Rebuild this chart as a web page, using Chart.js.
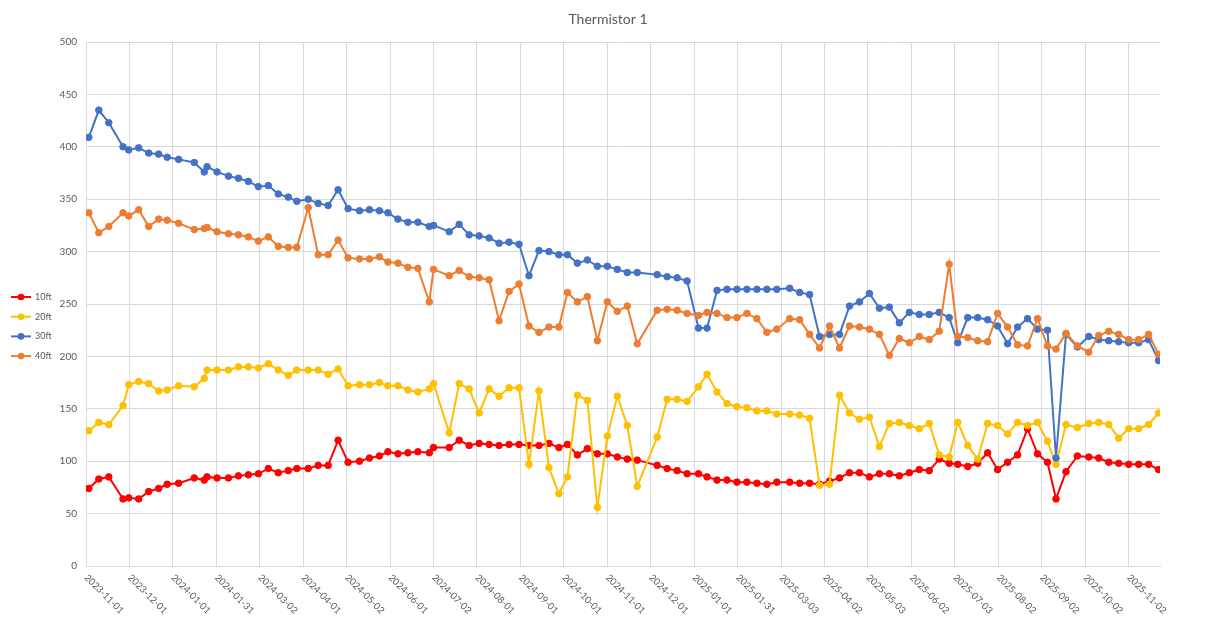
<!DOCTYPE html>
<html>
<head>
<meta charset="utf-8">
<script src="https://cdn.jsdelivr.net/npm/chart.js@4.4.0/dist/chart.umd.min.js"></script>
<style>
html,body{margin:0;padding:0;background:#fff;}
#wrap{width:1216px;height:622px;}
</style>
</head>
<body>
<div id="wrap"><canvas id="c" width="1216" height="622"></canvas></div>
<script>
const chartTitle = 'Thermistor 1';
const seriesNames = ['10ft', '20ft', '30ft', '40ft'];
const seriesColors = ['#FF0000', '#FFC000', '#4472C4', '#ED7D31'];
const axisStart = '2023-11-01';
const axisEnd = '2025-11-24';
const tickStepDays = 30.5;
const yTicks = [0, 50, 100, 150, 200, 250, 300, 350, 400, 450, 500];

const dates = [
'2023-11-03','2023-11-10','2023-11-17','2023-11-27','2023-12-01','2023-12-08','2023-12-15','2023-12-22','2023-12-28',
'2024-01-05','2024-01-16','2024-01-23','2024-01-25','2024-02-01','2024-02-09','2024-02-16','2024-02-23','2024-03-01','2024-03-08','2024-03-15','2024-03-22','2024-03-28',
'2024-04-05','2024-04-12','2024-04-19','2024-04-26','2024-05-03','2024-05-11','2024-05-18','2024-05-25','2024-05-31','2024-06-07','2024-06-14','2024-06-21','2024-06-29',
'2024-07-02','2024-07-13','2024-07-20','2024-07-27','2024-08-03','2024-08-10','2024-08-17','2024-08-24','2024-08-31','2024-09-07','2024-09-14','2024-09-21','2024-09-28',
'2024-10-04','2024-10-11','2024-10-18','2024-10-25','2024-11-01','2024-11-08','2024-11-15','2024-11-22','2024-12-06','2024-12-13','2024-12-20','2024-12-27',
'2025-01-04','2025-01-10','2025-01-17','2025-01-24','2025-01-31','2025-02-07','2025-02-14','2025-02-21','2025-02-28','2025-03-09','2025-03-16','2025-03-23','2025-03-30',
'2025-04-06','2025-04-13','2025-04-20','2025-04-27','2025-05-04','2025-05-11','2025-05-18','2025-05-25','2025-06-01','2025-06-08','2025-06-15','2025-06-22','2025-06-29',
'2025-07-05','2025-07-12','2025-07-19','2025-07-26','2025-08-02','2025-08-09','2025-08-16','2025-08-23','2025-08-30','2025-09-06','2025-09-12','2025-09-19','2025-09-27',
'2025-10-05','2025-10-12','2025-10-19','2025-10-26','2025-11-02','2025-11-09','2025-11-16','2025-11-23'
];

const ft10 = [
74,83,85,64,65,64,71,74,78,
79,84,82,85,84,84,86,87,88,93,89,91,93,
93,96,96,120,99,100,103,105,109,107,108,109,108,
113,113,120,115,117,116,115,116,116,115,115,117,113,
116,106,112,107,107,104,102,101,96,93,91,88,
88,85,82,82,80,80,79,78,80,80,79,79,78,
81,84,89,89,85,88,88,86,89,92,91,102,98,
97,95,98,108,92,99,106,131,107,99,64,90,105,
104,103,99,98,97,97,97,92
];

const ft20 = [
129,137,135,153,173,176,174,167,168,
172,171,179,187,187,187,190,190,189,193,187,182,187,
187,187,183,188,172,173,173,175,172,172,168,166,169,
174,127,174,169,146,169,162,170,170,97,167,94,69,
85,163,158,56,124,162,134,76,123,159,159,157,
171,183,166,155,152,151,148,148,145,145,144,141,77,
78,163,146,140,142,114,136,137,134,131,136,106,104,
137,115,102,136,134,126,137,134,137,119,97,135,132,
136,137,135,122,131,131,135,146
];

const ft30 = [
409,435,423,400,397,399,394,393,390,
388,385,376,381,376,372,370,367,362,363,355,352,348,
350,346,344,359,341,339,340,339,337,331,328,328,324,
325,319,326,316,315,313,308,309,307,277,301,300,297,
297,289,292,286,286,283,280,280,278,276,275,272,
227,227,263,264,264,264,264,264,264,265,261,259,219,
221,221,248,252,260,246,247,232,242,240,240,242,237,
213,237,237,235,229,212,228,236,226,225,103,221,209,
219,216,215,214,213,213,216,196
];

const ft40 = [
337,318,324,337,334,340,324,331,330,
327,321,322,323,319,317,316,314,310,314,305,304,304,
342,297,297,311,294,293,293,295,290,289,285,284,252,
283,277,282,276,275,273,234,262,269,229,223,228,228,
261,252,257,215,252,243,248,212,244,245,244,241,
239,242,241,237,237,241,236,223,226,236,235,221,208,
229,208,229,228,226,221,201,217,213,219,216,224,288,
219,218,215,214,241,228,211,210,236,210,207,222,210,
204,220,224,221,216,216,221,202
];

const allSeries = [ft10, ft20, ft30, ft40];
allSeries.forEach((s, i) => {
  if (s.length !== dates.length) throw new Error('length mismatch ' + seriesNames[i] + ': ' + s.length + ' vs ' + dates.length);
});

const DAY = 86400000;
const baseMs = Date.parse(axisStart + 'T00:00:00Z');
const toDay = s => (Date.parse(s + 'T00:00:00Z') - baseMs) / DAY;
const fmtDay = d => new Date(baseMs + Math.floor(d + 1e-6) * DAY).toISOString().slice(0, 10);
const xDays = dates.map(toDay);
const xMax = toDay(axisEnd);

const FONT = 'Lato, "Liberation Sans", sans-serif';
const TXT = '#595959';
const GRID = '#D9D9D9';

const datasets = seriesNames.map((name, i) => ({
  label: name,
  data: allSeries[i].map((v, j) => ({x: xDays[j], y: v})),
  borderColor: seriesColors[i],
  backgroundColor: seriesColors[i],
  pointBackgroundColor: seriesColors[i],
  pointBorderColor: seriesColors[i],
  borderWidth: 2,
  pointRadius: 3.3,
  pointBorderWidth: 1,
  tension: 0,
  order: seriesNames.length - i
}));

const decoPlugin = {
  id: 'deco',
  afterDraw(chart) {
    const ctx = chart.ctx;
    const xs = chart.scales.x;
    const area = chart.chartArea;
    ctx.save();
    ctx.fillStyle = TXT;
    ctx.font = '14px ' + FONT;
    ctx.textAlign = 'center';
    ctx.textBaseline = 'middle';
    ctx.fillText(chartTitle, 608, 19);
    ctx.font = '9.5px ' + FONT;
    ctx.textAlign = 'left';
    ctx.textBaseline = 'middle';
    xs.ticks.forEach(t => {
      const px = xs.getPixelForValue(t.value);
      ctx.save();
      ctx.translate(px, area.bottom + 10);
      ctx.rotate(Math.PI / 4);
      ctx.fillText(fmtDay(t.value), 0, 0);
      ctx.restore();
    });
    ctx.font = '9px ' + FONT;
    ctx.textBaseline = 'middle';
    chart.data.datasets.forEach((ds, i) => {
      const y = 297 + i * 19.7;
      ctx.strokeStyle = ds.borderColor;
      ctx.lineWidth = 2;
      ctx.beginPath();
      ctx.moveTo(11, y);
      ctx.lineTo(31, y);
      ctx.stroke();
      ctx.fillStyle = ds.borderColor;
      ctx.beginPath();
      ctx.arc(21, y, 3.3, 0, Math.PI * 2);
      ctx.fill();
      ctx.fillStyle = TXT;
      ctx.fillText(ds.label, 35, y);
    });
    ctx.restore();
  }
};

new Chart(document.getElementById('c'), {
  type: 'line',
  data: { datasets },
  plugins: [decoPlugin],
  options: {
    responsive: false,
    animation: false,
    layout: { padding: { top: 42, bottom: 56, left: 0, right: 1216 - 1160 } },
    plugins: { legend: { display: false }, title: { display: false }, tooltip: { enabled: false } },
    scales: {
      x: {
        type: 'linear',
        min: 0,
        max: xMax,
        afterBuildTicks(scale) {
          const t = [];
          for (let v = 0; v <= xMax + 1e-6; v += tickStepDays) t.push({ value: v });
          scale.ticks = t;
        },
        ticks: { display: false },
        grid: { color: GRID, lineWidth: 1, drawTicks: false },
        border: { color: GRID }
      },
      y: {
        min: 0,
        max: 500,
        afterBuildTicks(scale) { scale.ticks = yTicks.map(v => ({ value: v })); },
        afterFit(scale) { scale.width = 86; },
        ticks: { color: TXT, font: { family: FONT, size: 10 }, padding: 9 },
        grid: { color: GRID, lineWidth: 1, drawTicks: false },
        border: { color: GRID }
      }
    }
  }
});
</script>
</body>
</html>
